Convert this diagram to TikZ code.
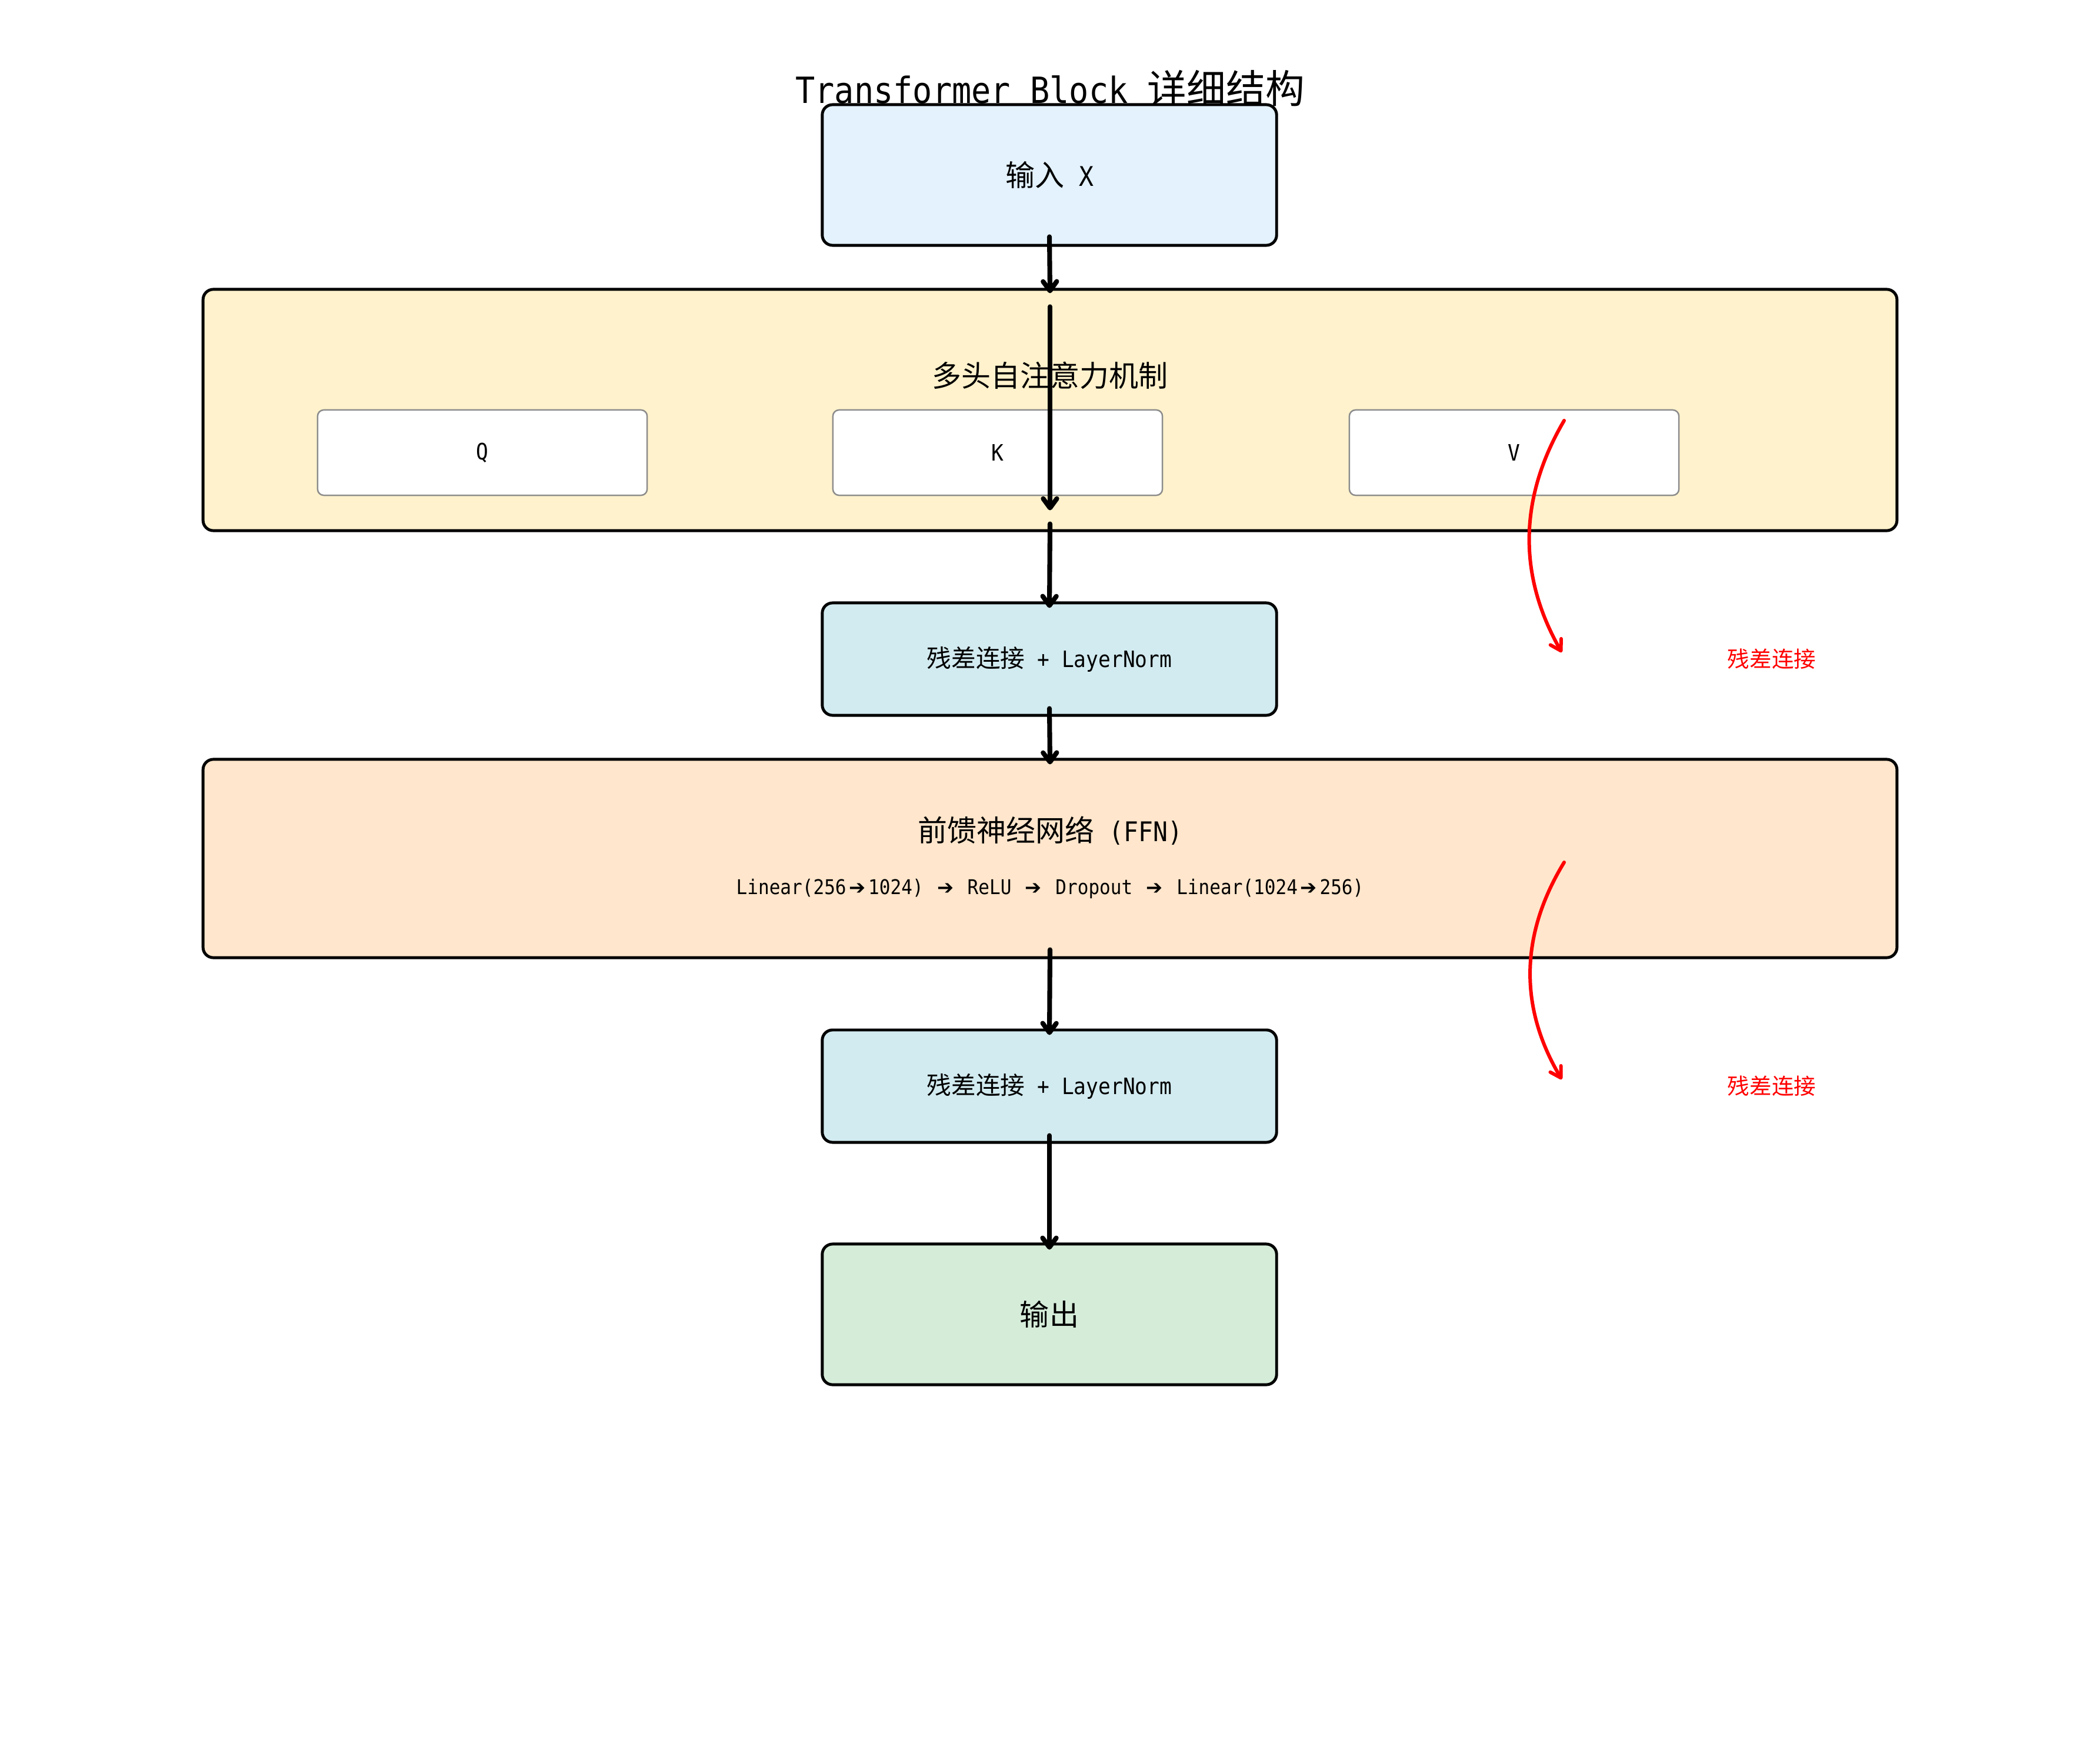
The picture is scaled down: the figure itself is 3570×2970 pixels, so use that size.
\documentclass[tikz,border=0pt]{standalone}
\usepackage{fontspec}
\usepackage{graphicx}
\setmainfont{DejaVu Sans Mono}[Scale=0.92,FakeStretch=0.9]
\newfontfamily\cjk{Noto Sans CJK SC}
\newfontfamily\djv{DejaVu Sans}
\usetikzlibrary{arrows.meta,calc}
\definecolor{cinp}{HTML}{E3F2FD}
\definecolor{cmha}{HTML}{FFF2CC}
\definecolor{cln}{HTML}{D2EBF0}
\definecolor{cffn}{HTML}{FFE6CC}
\definecolor{cout}{HTML}{D5ECD9}
\newcommand{\fsz}[1]{\fontsize{#1}{#1}\selectfont}
\newcommand{\rarr}{\makebox[10.67pt]{\resizebox{8pt}{!}{\djv ➔}}}
\begin{document}
\begin{tikzpicture}[x=0.01cm,y=-0.01cm,
  box/.style={draw=black,line width=1.4pt,rounded corners=5pt,inner sep=0pt,minimum width=7.72cm},
  wide/.style={draw=black,line width=1.4pt,rounded corners=5pt,inner sep=0pt,minimum width=28.78cm},
  subbox/.style={draw=black!45,fill=white,line width=0.7pt,rounded corners=3pt,inner sep=0pt,minimum width=5.6cm,minimum height=1.45cm,font=\fsz{11.86}},
  big/.style={font=\fsz{14.23}},
  small/.style={font=\fsz{11.86}},
  arr/.style={line width=2.3pt,line cap=round,-{Straight Barb[length=4.5pt,width=6.6pt,line width=2.3pt,round]}},
  res/.style={red,line width=1.7pt,line cap=round,-{Straight Barb[length=5pt,width=6pt,line width=1.7pt,round]}},
  lbl/.style={inner sep=0pt}]
\path[use as bounding box] (0,0) rectangle (3570,2970);
\fill[white] (0,0) rectangle (3570,2970);

\node[lbl,font=\fsz{18.97}] (title) at (1785,150) {Transformer Block {\cjk 详细结构}};

\node[box,fill=cinp,minimum height=2.39cm,big] (inp) at (1784,297.5) {{\cjk 输入} X};

\node[wide,fill=cmha,minimum height=4.10cm] (mha) at (1785,697) {};
\node[lbl,big] (mhat) at (1785,638) {\cjk 多头自注意力机制};
\node[subbox] (q) at (820,769.5) {Q};
\node[subbox] (k) at (1696,769.5) {K};
\node[subbox] (v) at (2574,769.5) {V};

\node[box,fill=cln,minimum height=1.91cm,small] (ln1) at (1784,1120.5) {{\cjk 残差连接} + LayerNorm};

\node[wide,fill=cffn,minimum height=3.37cm] (ffn) at (1785,1459.5) {};
\node[lbl,big] (ffnt) at (1785,1412) {{\cjk 前馈神经网络} (FFN)};
\node[lbl,font=\fsz{10.67}] (ffns) at (1785,1511) {Linear(256\rarr1024) \rarr\ ReLU \rarr\ Dropout \rarr\ Linear(1024\rarr256)};

\node[box,fill=cln,minimum height=1.91cm,small] (ln2) at (1784,1846.5) {{\cjk 残差连接} + LayerNorm};

\node[box,fill=cout,minimum height=2.39cm,big] (out) at (1784,2234.5) {\cjk 输出};

\draw[arr] ($(inp.south)+(0,-17)$) -- ($(mha.north)+(0,9)$);
\draw[arr] ($(mha.north)+(0,32)$) -- ($(mha.south)+(0,-37)$);
\draw[arr] ($(mha.south)+(0,-14)$) -- ($(ln1.north)+(0,11)$);
\draw[arr] ($(ln1.south)+(0,-14)$) -- ($(ffn.north)+(0,11)$);
\draw[arr] ($(ffn.south)+(0,-16)$) -- ($(ln2.north)+(0,11)$);
\draw[arr] ($(ln2.south)+(0,-14)$) -- ($(out.north)+(0,12)$);

\coordinate (r1s) at (2659,715);
\coordinate (r1e) at (2655,1109);
\coordinate (r2s) at (2659,1466);
\coordinate (r2e) at (2655,1835);
\draw[res] (r1s) .. controls (2582,846) and (2580,978) .. (r1e);
\draw[res] (r2s) .. controls (2584,1589) and (2582,1712) .. (r2e);
\node[lbl,red,font=\fsz{10.67}] (res1) at (3012,1120) {\cjk 残差连接};
\node[lbl,red,font=\fsz{10.67}] (res2) at (3012,1846) {\cjk 残差连接};
\end{tikzpicture}
\end{document}
